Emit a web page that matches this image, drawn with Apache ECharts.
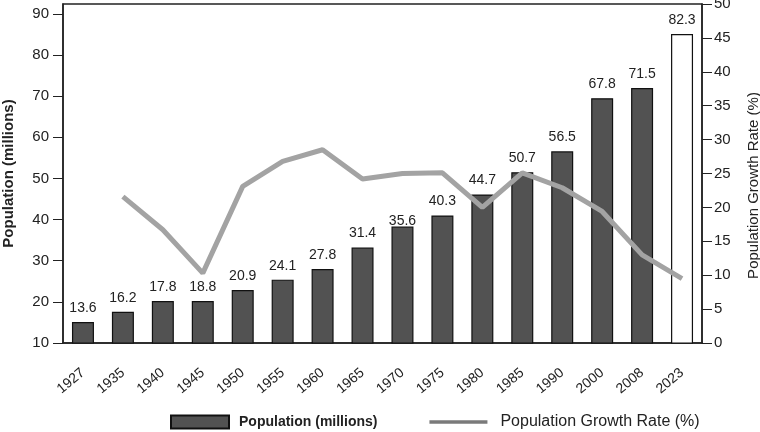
<!DOCTYPE html>
<html>
<head>
<meta charset="utf-8">
<script src="https://cdn.jsdelivr.net/npm/echarts@6/dist/echarts.min.js"></script>
<style>
html,body{margin:0;padding:0;background:#fff;}
#chart{width:760px;height:432px;}
</style>
</head>
<body>
<div id="chart"></div>
<script>
// Data
const years = ['1927','1935','1940','1945','1950','1955','1960','1965','1970','1975','1980','1985','1990','2000','2008','2023'];
// bar heights as drawn (left axis, millions)
const popBars = [15.1, 17.6, 20.2, 20.2, 22.9, 25.4, 28.0, 33.2, 38.3, 41.0, 46.1, 51.5, 56.6, 69.5, 72.0, 85.1];
// printed value labels above the bars
const popLabels = ['13.6','16.2','17.8','18.8','20.9','24.1','27.8','31.4','35.6','40.3','44.7','50.7','56.5','67.8','71.5','82.3'];
// growth rate line (right axis, %)
const growthRate = [null, 21.6, 16.7, 10.3, 23.1, 26.8, 28.5, 24.2, 25.0, 25.1, 20.0, 25.1, 22.9, 19.4, 13.0, 9.5];
const leftTicks = [10, 20, 30, 40, 50, 60, 70, 80, 90];
const rightTicks = [0, 5, 10, 15, 20, 25, 30, 35, 40, 45, 50];
const highlightYear = '2023';

const FONT = '"Liberation Sans", Arial, sans-serif';
const INK = '#222';

const barData = popBars.map((v, i) => {
  const item = { value: v };
  if (years[i] === highlightYear) item.itemStyle = { color: '#fff' };
  if (popLabels[i] === '35.6') item.label = { offset: [0, 9] };
  return item;
});

const chart = echarts.init(document.getElementById('chart'), null, { renderer: 'canvas' });
chart.setOption({
  animation: false,
  backgroundColor: '#fff',
  textStyle: { fontFamily: FONT, color: INK },
  grid: { left: 63, right: 58, top: 4, bottom: 89, outerBoundsMode: 'none', containLabel: false,
          show: true, borderColor: INK, borderWidth: 1.5, backgroundColor: 'transparent' },
  legend: {
    left: 165, top: 409,
    itemWidth: 58, itemHeight: 13, itemGap: 52,
    textStyle: { fontFamily: FONT, color: INK, fontSize: 14, padding: [0, 0, 0, 5] },
    data: [
      { name: 'Population (millions)', icon: 'rect', textStyle: { fontWeight: 'bold', fontSize: 14 } },
      { name: 'Population Growth Rate (%)', icon: 'path://M0,0H62V4H0Z', itemStyle: { color: '#7a7a7a' },
        textStyle: { fontSize: 16, padding: [0, 0, 0, 8] } }
    ]
  },
  xAxis: {
    type: 'category',
    data: years,
    axisLine: { lineStyle: { color: INK, width: 1.5 } },
    axisTick: { show: false },
    axisLabel: { rotate: 40, margin: 28, fontSize: 14, color: INK, fontFamily: FONT, interval: 0 }
  },
  yAxis: [
    {
      type: 'value', min: 10, max: 92.4,
      name: 'Population (millions)', nameLocation: 'middle', nameGap: 47, nameRotate: 90,
      nameTextStyle: { fontWeight: 'bold', fontSize: 15, color: INK, fontFamily: FONT },
      splitLine: { show: false },
      axisLine: { show: true, lineStyle: { color: INK, width: 1.5 } },
      axisTick: { show: true, length: 10, lineStyle: { color: INK }, customValues: leftTicks },
      axisLabel: { fontSize: 15, color: INK, margin: 14, fontFamily: FONT, customValues: leftTicks }
    },
    {
      type: 'value', min: 0, max: 50, position: 'right',
      name: 'Population Growth Rate (%)', nameLocation: 'middle', nameGap: 44, nameRotate: 90,
      nameTextStyle: { fontSize: 15, color: INK, fontFamily: FONT, padding: [0, 24, 0, 0] },
      splitLine: { show: false },
      axisLine: { show: true, lineStyle: { color: INK, width: 1.5 } },
      axisTick: { show: true, length: 10, lineStyle: { color: INK }, customValues: rightTicks },
      axisLabel: { fontSize: 15, color: INK, margin: 12, fontFamily: FONT, customValues: rightTicks }
    }
  ],
  series: [
    {
      name: 'Population (millions)',
      type: 'bar',
      yAxisIndex: 0,
      barWidth: 22,
      data: barData,
      itemStyle: { color: '#525252', borderColor: '#111', borderWidth: 1.2 },
      label: {
        show: true, position: 'top', distance: 7, fontSize: 14, color: INK, fontFamily: FONT,
        formatter: p => popLabels[p.dataIndex]
      },
      z: 2
    },
    {
      name: 'Population Growth Rate (%)',
      type: 'line',
      yAxisIndex: 1,
      data: growthRate,
      symbol: 'none',
      connectNulls: false,
      lineStyle: { color: '#a3a3a3', width: 5 },
      itemStyle: { color: '#a3a3a3' },
      z: 3
    }
  ]
});
</script>
</body>
</html>
